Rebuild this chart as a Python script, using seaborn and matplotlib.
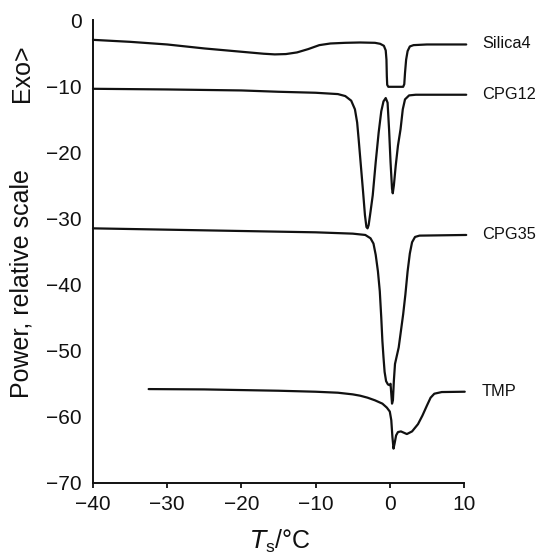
import numpy as np
import pandas as pd
import matplotlib
matplotlib.use("Agg")
import matplotlib.pyplot as plt
import seaborn as sns

# ---- data ----
silica4_T = [-40, -35, -30, -25, -20, -17, -15.5, -14, -12.5, -11, -9.5, -8, -6, -4, -2, -1.3, -0.8,
             -0.55, -0.45, -0.4, -0.35, -0.2, 1.8, 1.95, 2.05, 2.2, 2.4, 2.7, 3.2, 5, 10.3]
silica4_P = [-3.0, -3.3, -3.7, -4.3, -4.8, -5.1, -5.2, -5.15, -4.9, -4.4, -3.8, -3.55, -3.45, -3.4, -3.45,
             -3.6, -3.9, -4.6, -6.0, -8.5, -9.8, -10.1, -10.1, -9.7, -8.0, -6.0, -4.7, -4.0, -3.8, -3.7, -3.7]

cpg12_T = [-40, -30, -20, -15, -10, -7, -6, -5.2, -4.7, -4.4, -4.2, -3.9, -3.6, -3.35, -3.15, -3.0, -2.85,
           -2.6, -2.3, -1.9, -1.5, -1.15, -0.85, -0.55, -0.3, -0.1, 0.1, 0.3, 0.4, 0.55, 0.8, 1.1, 1.45,
           1.75, 2.05, 2.6, 3.5, 10.3]
cpg12_P = [-10.4, -10.5, -10.65, -10.85, -11.0, -11.2, -11.5, -12.2, -13.5, -15.5, -18, -22, -26, -29.5,
           -31.3, -31.5, -31, -29, -26.5, -21.5, -17, -13.8, -12.3, -11.8, -12.5, -16.5, -21.5, -25.5,
           -26.2, -25, -22, -19, -16.5, -13.5, -12.0, -11.4, -11.3, -11.3]

cpg35_T = [-40, -30, -20, -10, -5, -3.3, -2.6, -2.2, -1.9, -1.6, -1.35, -1.15, -1.0, -0.85, -0.7, -0.5,
           -0.25, -0.05, 0.1, 0.2, 0.3, 0.42, 0.55, 0.7, 0.9, 1.2, 1.5, 1.8, 2.1, 2.4, 2.7, 3.0, 3.4,
           4.0, 10.3]
cpg35_P = [-31.5, -31.7, -31.9, -32.1, -32.3, -32.5, -33.0, -33.8, -35.5, -38, -41, -45, -48.5, -51,
           -53.2, -54.6, -55.1, -55.2, -55.0, -56.5, -58.0, -57.5, -54.5, -52, -51, -49.5, -47, -44.5,
           -41.5, -38, -35.3, -33.6, -32.8, -32.6, -32.5]

tmp_T = [-32.5, -25, -20, -15, -10, -7, -5, -4, -3, -2, -1, -0.4, 0.0, 0.2, 0.35, 0.5, 0.65, 0.85, 1.1,
         1.5, 2.3, 3.0, 3.8, 4.4, 5.0, 5.5, 6.0, 7, 10.1]
tmp_P = [-55.8, -55.85, -55.95, -56.05, -56.2, -56.35, -56.6, -56.8, -57.1, -57.5, -58.0, -58.6, -59.2,
         -60.5, -63, -64.8, -64, -62.8, -62.3, -62.2, -62.6, -62.2, -61.1, -59.8, -58.3, -57.1, -56.5,
         -56.25, -56.2]

series_names = ["Silica4", "CPG12", "CPG35", "TMP"]
series_T = [silica4_T, cpg12_T, cpg35_T, tmp_T]
series_P = [silica4_P, cpg12_P, cpg35_P, tmp_P]
label_y = [-3.6, -11.3, -32.4, -56.2]

x_ticks = [-40, -30, -20, -10, 0, 10]
y_ticks = [0, -10, -20, -30, -40, -50, -60, -70]
y_tick_labels = ["0", "\u221210", "\u221220", "\u221230", "\u221240", "\u221250", "\u221260", "\u221270"]
x_tick_labels = ["\u221240", "\u221230", "\u221220", "\u221210", "0", "10"]

frames = []
for name, T, P in zip(series_names, series_T, series_P):
    frames.append(pd.DataFrame({"T": T, "P": P, "sample": name}))
df = pd.concat(frames, ignore_index=True)

sns.set_theme(style="ticks")
plt.rcParams["font.family"] = ["Liberation Sans", "DejaVu Sans"]

ink = "#111111"
fig = plt.figure(figsize=(5.39, 5.56), dpi=100)
ax = fig.add_axes([93 / 539, 1 - 483 / 556, (464 - 93) / 539, (483 - 20) / 556])

sns.lineplot(data=df, x="T", y="P", units="sample", estimator=None, sort=False,
             color=ink, linewidth=1.6, ax=ax, legend=False)
for ln in ax.lines:
    ln.set_clip_on(False)

ax.set_xlim(-40, 10)
ax.set_ylim(-70, 0)
ax.set_xticks(x_ticks)
ax.set_xticklabels(x_tick_labels)
ax.set_yticks(y_ticks)
ax.set_yticklabels(y_tick_labels)
ax.tick_params(axis="x", length=3.8, width=1.3, direction="out", pad=5, labelsize=15, colors=ink)
ax.tick_params(axis="y", length=0, pad=8, labelsize=15, colors=ink)
for s in ["top", "right"]:
    ax.spines[s].set_visible(False)
for s in ["left", "bottom"]:
    ax.spines[s].set_linewidth(1.4)
    ax.spines[s].set_color(ink)

ax.set_xlabel("")
ax.set_ylabel("")

for name, ly in zip(series_names, label_y):
    ax.text(12.4, ly, name, fontsize=11.8, va="center", ha="left", color=ink, clip_on=False)

fig.text(280 / 539, 1 - 541 / 556, r"$T_\mathregular{s}$/°C", fontsize=18, ha="center", va="center",
         color=ink)
fig.text(22 / 539, 1 - 284 / 556, "Power, relative scale", fontsize=18, rotation=90,
         ha="center", va="center", color=ink)
fig.text(22 / 539, 1 - 73 / 556, "Exo>", fontsize=18, rotation=90,
         ha="center", va="center", color=ink)

fig.savefig("out.png", dpi=100)
